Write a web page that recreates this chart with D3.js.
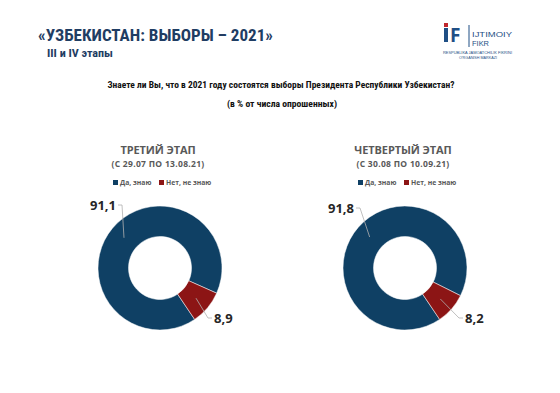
<!DOCTYPE html>
<html>
<head>
<meta charset="utf-8">
<script src="https://cdn.jsdelivr.net/npm/d3@7"></script>
<style>
  body { margin: 0; background: #fff; }
  svg { display: block; }
</style>
</head>
<body>
<div id="chart"></div>
<script>
// chart data
const categories = ["Да, знаю", "Нет, не знаю"];
const stages = ["ТРЕТИЙ ЭТАП", "ЧЕТВЕРТЫЙ ЭТАП"];
const periods = ["(С 29.07 ПО 13.08.21)", "(С 30.08 ПО 10.09.21)"];
const valuesStage3 = [91.1, 8.9];
const valuesStage4 = [91.8, 8.2];
const colors = ["#0f4064", "#8c1515"];

const W = 560, H = 393;
const narrow = "'Liberation Sans Narrow', 'Arial Narrow', 'Roboto Condensed', sans-serif";
const sans = "'Open Sans', 'Noto Sans', sans-serif";
const logoFont = "'Liberation Sans', Arial, sans-serif";

const svg = d3.select("#chart").append("svg")
    .attr("width", W)
    .attr("height", H);

// header
svg.append("text")
    .attr("x", 38).attr("y", 41)
    .attr("textLength", 235).attr("lengthAdjust", "spacingAndGlyphs")
    .style("font-family", narrow).style("font-weight", "bold")
    .style("font-size", "17px").style("fill", "#1f3d63")
    .text("«УЗБЕКИСТАН: ВЫБОРЫ – 2021»");

svg.append("text")
    .attr("x", 47).attr("y", 57)
    .attr("textLength", 66).attr("lengthAdjust", "spacingAndGlyphs")
    .style("font-family", narrow).style("font-weight", "bold")
    .style("font-size", "11.5px").style("fill", "#1f3d63")
    .text("III и IV этапы");

// logo
const logo = svg.append("g");
logo.append("rect").attr("x", 444).attr("y", 28).attr("width", 4).attr("height", 14).style("fill", "#1f4f85");
logo.append("rect").attr("x", 444).attr("y", 23).attr("width", 4).attr("height", 4).style("fill", "#c0272d");
logo.append("text").attr("x", 450).attr("y", 42)
    .style("font-family", sans).style("font-weight", "bold").style("font-size", "19px")
    .style("fill", "#1f4f85").text("F");
logo.append("line").attr("x1", 469).attr("x2", 469).attr("y1", 25).attr("y2", 47)
    .style("stroke", "#1f4f85").style("stroke-width", 1);
logo.append("text").attr("x", 472).attr("y", 37)
    .attr("textLength", 40).attr("lengthAdjust", "spacingAndGlyphs")
    .style("font-family", logoFont).style("font-size", "7.5px").style("fill", "#1f4f85").text("IJTIMOIY");
logo.append("text").attr("x", 472).attr("y", 46)
    .attr("textLength", 17).attr("lengthAdjust", "spacingAndGlyphs")
    .style("font-family", logoFont).style("font-size", "7.5px").style("fill", "#1f4f85").text("FIKR");
logo.append("text").attr("x", 443).attr("y", 53.5)
    .attr("textLength", 69).attr("lengthAdjust", "spacingAndGlyphs")
    .style("font-family", logoFont).style("font-size", "3.5px").style("fill", "#1f4f85").text("RESPUBLIKA JAMOATCHILIK FIKRINI");
logo.append("text").attr("x", 459).attr("y", 59)
    .attr("textLength", 38).attr("lengthAdjust", "spacingAndGlyphs")
    .style("font-family", logoFont).style("font-size", "3.5px").style("fill", "#1f4f85").text("O'RGANISH MARKAZI");

// question
svg.append("text")
    .attr("x", 281).attr("y", 88)
    .attr("text-anchor", "middle")
    .attr("textLength", 347).attr("lengthAdjust", "spacingAndGlyphs")
    .style("font-family", narrow).style("font-weight", "bold")
    .style("font-size", "9.5px").style("fill", "#111")
    .text("Знаете ли Вы, что в 2021 году состоятся выборы Президента Республики Узбекистан?");

svg.append("text")
    .attr("x", 282).attr("y", 107)
    .attr("text-anchor", "middle")
    .attr("textLength", 110).attr("lengthAdjust", "spacingAndGlyphs")
    .style("font-family", narrow).style("font-weight", "bold")
    .style("font-size", "9.5px").style("fill", "#111")
    .text("(в % от числа опрошенных)");

// donuts
const pie = d3.pie().sort(null)
    .startAngle(146 * Math.PI / 180)
    .endAngle((146 + 360) * Math.PI / 180);
const arc = d3.arc().innerRadius(31.5).outerRadius(62);

const fmt = v => d3.format(".1f")(v).replace(".", ",");

function drawDonut(cx, cy, values, idx, bigLabel, smallLabel) {
    const g = svg.append("g").attr("transform", `translate(${cx},${cy})`);

    // title
    svg.append("text")
        .attr("x", cx - 2).attr("y", 154)
        .attr("text-anchor", "middle")
        .style("font-family", sans).style("font-weight", "bold")
        .style("font-size", "11px").style("fill", "#595959")
        .style("letter-spacing", "-0.1px")
        .text(stages[idx]);
    svg.append("text")
        .attr("x", cx - 2).attr("y", 167)
        .attr("text-anchor", "middle")
        .style("font-family", sans).style("font-weight", "bold")
        .style("font-size", "8.5px").style("fill", "#595959")
        .style("letter-spacing", "0.3px")
        .text(periods[idx]);

    // legend
    const lx = cx - 47;
    const leg = svg.append("g").attr("transform", `translate(${lx},183)`);
    const legX = [0, 46];
    categories.forEach((c, i) => {
        leg.append("rect")
            .attr("x", legX[i]).attr("y", -3)
            .attr("width", 5).attr("height", 5)
            .style("fill", colors[i]);
        leg.append("text")
            .attr("x", legX[i] + 7).attr("y", 2)
            .style("font-family", sans).style("font-weight", "bold")
            .style("font-size", "6.8px").style("fill", "#595959")
            .text(c);
    });

    const arcs = pie(values);
    g.selectAll("path")
        .data(arcs)
        .enter().append("path")
        .attr("d", arc)
        .style("fill", (d, i) => colors[i])
        .style("stroke", "#fff")
        .style("stroke-width", 0.5);

    // leader lines and labels
    arcs.forEach((d, i) => {
        const lab = i === 0 ? bigLabel : smallLabel;
        const c = d3.arc().innerRadius(47).outerRadius(47).centroid(d);
        const pts = [[c[0], c[1]], [lab.x, lab.y], [lab.x + lab.dx, lab.y]];
        g.append("path")
            .attr("d", d3.line()(pts))
            .style("fill", "none")
            .style("stroke", "#b0b0b0")
            .style("stroke-width", 0.8);
        g.append("text")
            .attr("x", lab.x + lab.dx + (lab.dx < 0 ? -2 : 2))
            .attr("y", lab.y + 5)
            .attr("text-anchor", lab.dx < 0 ? "end" : "start")
            .style("font-family", sans).style("font-weight", "bold")
            .style("font-size", "13px").style("fill", "#262626")
            .text(fmt(values[i]));
    });
}

drawDonut(160, 268, valuesStage3, 0, {x: -38, y: -63, dx: -4}, {x: 48, y: 50, dx: 4});
drawDonut(405, 268, valuesStage4, 1, {x: -45, y: -60, dx: -4}, {x: 54, y: 50, dx: 4});
</script>
</body>
</html>
